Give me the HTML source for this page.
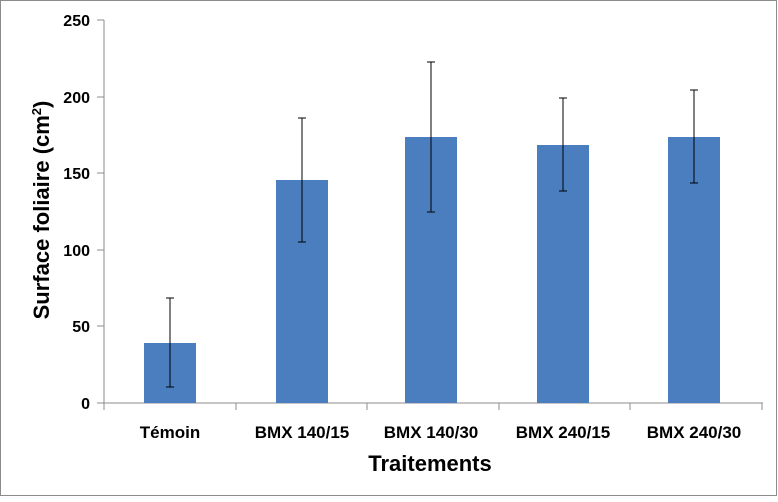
<!DOCTYPE html><html><head><style>body{margin:0;background:#fff}</style></head><body>
<svg width="778" height="497" xmlns="http://www.w3.org/2000/svg" font-family="Liberation Sans, sans-serif" font-weight="bold">
<rect x="0.5" y="0.5" width="776" height="495" fill="#fff" stroke="#8c8c8c"/>
<g stroke="#8c8c8c" stroke-width="1">
<line x1="104" y1="20" x2="104" y2="403"/>
<line x1="97" y1="403" x2="763" y2="403"/>
<line x1="97" y1="20" x2="104" y2="20"/><line x1="97" y1="97" x2="104" y2="97"/><line x1="97" y1="173" x2="104" y2="173"/><line x1="97" y1="250" x2="104" y2="250"/><line x1="97" y1="326" x2="104" y2="326"/>
<line x1="104" y1="403" x2="104" y2="410"/><line x1="236" y1="403" x2="236" y2="410"/><line x1="367" y1="403" x2="367" y2="410"/><line x1="499" y1="403" x2="499" y2="410"/><line x1="630" y1="403" x2="630" y2="410"/><line x1="762" y1="403" x2="762" y2="410"/>
</g>
<g fill="#4a7ebf">
<rect x="144" y="343" width="52" height="60"/>
<rect x="276" y="180" width="52" height="223"/>
<rect x="405" y="137" width="52" height="266"/>
<rect x="537" y="145" width="52" height="258"/>
<rect x="668" y="137" width="52" height="266"/>
</g>
<g stroke="#000" stroke-width="1">
<path d="M170 298V387M166 298H174M166 387H174"/>
<path d="M302 118V242M298 118H306M298 242H306"/>
<path d="M431 62V212M427 62H435M427 212H435"/>
<path d="M563 98V191M559 98H567M559 191H567"/>
<path d="M694 90V183M690 90H698M690 183H698"/>
</g>
<g font-size="16" text-anchor="end">
<text x="90" y="26">250</text><text x="90" y="103">200</text><text x="90" y="179">150</text><text x="90" y="256">100</text><text x="90" y="332">50</text><text x="90" y="409">0</text>
</g>
<g font-size="17" text-anchor="middle">
<text x="170" y="438">Témoin</text><text x="302" y="438">BMX 140/15</text><text x="431" y="438">BMX 140/30</text><text x="563" y="438">BMX 240/15</text><text x="694" y="438">BMX 240/30</text>
</g>
<text x="430" y="471" font-size="22" text-anchor="middle">Traitements</text>
<text transform="translate(49,210) rotate(-90)" font-size="22" text-anchor="middle">Surface foliaire (cm<tspan font-size="13" dy="-8">2</tspan><tspan dy="8">)</tspan></text>
</svg>
</body></html>
